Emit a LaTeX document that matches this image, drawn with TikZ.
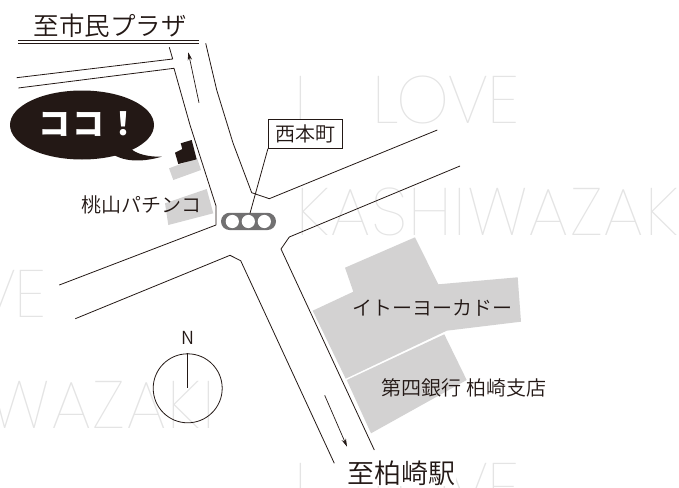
\documentclass[tikz,border=0pt]{standalone}
\usepackage{fontspec}
\setmainfont{Noto Sans CJK JP DemiLight}[BoldFont={Noto Sans CJK JP Black}]
\newfontfamily\wmfont{Poppins Thin}
\definecolor{ink}{HTML}{231815}
\definecolor{wmgray}{HTML}{E4E4E4}
\definecolor{bgray}{HTML}{D3D2D2}
\definecolor{lightgray2}{HTML}{717071}
\newcommand{\fs}[1]{\fontsize{#1}{#1}\selectfont}
\tikzset{
  road/.style={draw=ink,line width=0.8pt,line join=round},
  building/.style={fill=bgray,draw=none},
  dirarrow/.style={draw=ink,line width=0.7pt,-{Stealth[length=8pt,width=4.5pt]}},
  lbl/.style={text=ink,inner sep=0pt,font=\fs{20}},
  wm/.style={text=wmgray,inner sep=0pt,anchor=base west,font=\wmfont\fs{67}},
}
\usetikzlibrary{arrows.meta}
\begin{document}
\begin{tikzpicture}[x=1pt,y=-1pt]
\useasboundingbox (0,0) rectangle (679,487);
\begin{scope}
\clip (0,0) rectangle (679,487);
\node[wm] (w1) at (294,123) {I};
\node[wm] (w2) at (372,123) {\addfontfeature{LetterSpace=-3}LOVE};
\node[wm] (w3) at (296,235) {\addfontfeature{LetterSpace=1.6}KASHIWAZAKI};
\node[wm,anchor=base east] (w4) at (47,317) {\addfontfeature{LetterSpace=-3}LOVE};
\node[wm,anchor=base east] (w5) at (215,428) {\addfontfeature{LetterSpace=1.6}KASHIWAZAKI};
\node[wm] (w6) at (294,510) {I};
\node[wm] (w7) at (372,510) {\addfontfeature{LetterSpace=-3}LOVE};
\end{scope}
% buildings
\fill[building] (415,237.3)--(438.3,284.3)--(517.7,277.3)--(521,321.7)--(446.7,330.7)--(345.7,378.7)--(312.7,310.7)--(353.3,291.7)--(345,267.7)--cycle;
\fill[building] (444.3,334.3)--(466.7,380)--(371,433.3)--(346.7,380)--cycle;
\fill[building] (169,168.3)--(197,158)--(201,170)--(173.3,180)--cycle;
\fill[building] (165,203.3)--(206.7,189)--(213.3,213.3)--(168.3,225)--cycle;
\fill[ink] (175,152.7)--(182.3,149)--(180.7,143.3)--(191.7,140)--(196.7,159.3)--(178.3,164)--cycle;
% roads
\draw[road] (18,40.7)--(199,40.7);
\draw[road] (18,43)--(199,43);
\draw[road] (16.7,77.7)--(172.7,59)--(169.3,47.3);
\draw[road] (18.3,88)--(174,68.3)--(190,125)--(216,206)--(216,225)--(59.3,285);
\draw[road] (205.7,43.3)--(216.7,90)--(233,143)--(251.7,192.7)--(269.3,198.7)--(437.3,130);
\draw[road] (460,166)--(289.3,237)--(281,249)--(374.3,450);
\draw[road] (75.3,318.7)--(230,255.3)--(240.7,260.7)--(334.3,463.3);
% direction arrows
\coordinate (a1s) at (199,102.7);
\coordinate (a1e) at (188.3,52.3);
\coordinate (a2s) at (324.7,395.3);
\coordinate (a2e) at (347,446.7);
\draw[dirarrow] (a1s)--(a1e);
\draw[dirarrow] (a2s)--(a2e);
% bubble
\fill[ink] (82,125) ellipse [x radius=72,y radius=34.5];
\fill[ink] (115,150) -- (130,148) .. controls (136,154) and (148,157) .. (161.7,156.7) .. controls (150,160) and (130,164) .. (114,155) -- cycle;
\node[text=white,inner sep=0pt,font=\bfseries\fs{32}] (koko) at (89,124) {\addfontfeature{LetterSpace=9}ココ！};
% labels
\node[lbl,font=\fs{25.5}] (plaza) at (110,26) {至市民プラザ};
\node[lbl,font=\fs{27},fill=white,inner sep=1pt] (station) at (401,473) {至柏崎駅};
\node[lbl] (pachinko) at (141.5,205) {桃山パチンコ};
\node[lbl] (ito) at (432,308) {イトーヨーカドー};
\node[lbl,font=\fs{20}] (bank) at (464,388) {第四銀行 柏崎支店};
% signal
\node[draw=ink,line width=0.8pt,fill=white,minimum width=74.4pt,minimum height=29pt,inner sep=0pt,text=ink,font=\fs{20}] (sign) at (305.5,133.8) {西本町};
\node[fill=lightgray2,rounded corners=8.6pt,minimum width=55pt,minimum height=17.3pt,inner sep=0pt] (light) at (248.5,221.4) {};
\foreach \n/\x in {l1/232.3,l2/248.3,l3/264.3}
  \fill[white] (\x,221.5) circle (6.6);
\coordinate (lighttop) at (250,213.3);
\draw[road] (sign.south west)--(lighttop);
% compass
\node[draw=ink,circle,line width=0.8pt,minimum size=69pt,inner sep=0pt] (compass) at (187.7,388.3) {};
\draw[road] (compass.north)--(compass.center);
\node[lbl,font=\fs{18}] (north) at (187.7,338) {N};
\end{tikzpicture}
\end{document}
